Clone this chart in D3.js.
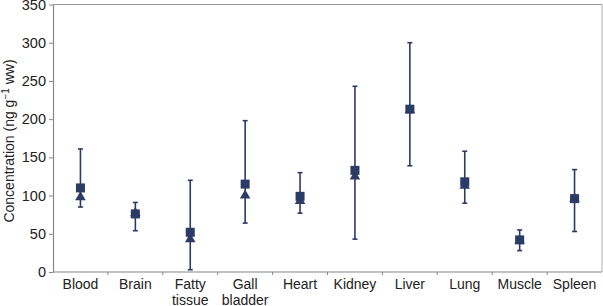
<!DOCTYPE html>
<html>
<head>
<meta charset="utf-8">
<script src="https://cdn.jsdelivr.net/npm/d3@7"></script>
<style>
  body { margin: 0; background: #fff; }
  svg text { font-family: "Liberation Sans", Arial, sans-serif; fill: #222; }
</style>
</head>
<body>
<div id="main"></div>
<script>
// tissues (second line of label after "|")
const tissues = ["Blood", "Brain", "Fatty|tissue", "Gall|bladder", "Heart", "Kidney", "Liver", "Lung", "Muscle", "Spleen"];
// square markers
const squareVals = [110, 76, 52, 115, 99, 133, 213, 118, 42, 96];
// triangle markers
const triangleVals = [98, 77, 43, 100, 93, 125, 212, 113, 41, 96];
// whisker ends
const highVals = [161, 91, 120, 198, 130, 243, 300, 158, 55, 134];
const lowVals = [85, 54, 3, 64, 77, 43, 139, 90, 28, 53];
const yTicks = [0, 50, 100, 150, 200, 250, 300, 350];

const ctx = { width: 603, height: 306, left: 53, right: 602, top: 4.5, bottom: 272 };
const navy = "#2c3a66";

const svg = d3.select("#main").append("svg")
  .attr("width", ctx.width)
  .attr("height", ctx.height);

const x = d3.scaleBand().domain(tissues).range([ctx.left, ctx.right]);
const y = d3.scaleLinear().domain([0, 350]).range([ctx.bottom, ctx.top]);

// frame
svg.append("line").attr("x1", ctx.left).attr("x2", ctx.right).attr("y1", ctx.top).attr("y2", ctx.top)
  .attr("stroke", "#999").attr("stroke-width", 1.2);
svg.append("line").attr("x1", ctx.right).attr("x2", ctx.right).attr("y1", ctx.top).attr("y2", ctx.bottom)
  .attr("stroke", "#bbb").attr("stroke-width", 1.2);

// y axis
const yAxis = svg.append("g")
  .attr("transform", "translate(" + ctx.left + ",0)")
  .call(d3.axisLeft(y).tickValues(yTicks).tickSize(4).tickSizeOuter(0));
yAxis.select(".domain").attr("stroke", "#888").attr("stroke-width", 1.2);
yAxis.selectAll(".tick line").attr("stroke", "#888");
yAxis.selectAll(".tick text").attr("font-size", 14.5).attr("x", -7).attr("fill", "#222");

// x axis, ticks sit between categories
const xAxis = svg.append("g").attr("transform", "translate(0," + ctx.bottom + ")");
xAxis.append("line").attr("x1", ctx.left).attr("x2", ctx.right).attr("stroke", "#888").attr("stroke-width", 1.2);
xAxis.selectAll(".sep").data(tissues.slice(1)).enter().append("line")
  .attr("x1", d => x(d)).attr("x2", d => x(d))
  .attr("y1", 0).attr("y2", 3).attr("stroke", "#888");
const lbl = xAxis.selectAll(".lbl").data(tissues).enter().append("text")
  .attr("text-anchor", "middle").attr("font-size", 14)
  .attr("transform", d => "translate(" + (x(d) + x.bandwidth() / 2) + ",17)");
lbl.each(function (d) {
  const parts = d.split("|");
  parts.forEach((p, i) => {
    d3.select(this).append("tspan").attr("x", 0).attr("y", i * 15.5).text(p);
  });
});

// y title
const title = svg.append("text")
  .attr("transform", "translate(13.5," + 141 + ") rotate(-90)")
  .attr("text-anchor", "middle").attr("font-size", 14);
title.append("tspan").text("Concentration (ng g");
title.append("tspan").attr("dy", -5).attr("font-size", 10).text("\u22121");
title.append("tspan").attr("dy", 5).text(" ww)");

// error bars
const cx = d => x(d) + x.bandwidth() / 2;
const g = svg.append("g");
tissues.forEach((t, i) => {
  g.append("line").attr("x1", cx(t)).attr("x2", cx(t))
    .attr("y1", y(highVals[i])).attr("y2", y(lowVals[i]))
    .attr("stroke", navy).attr("stroke-width", 1.6);
  [highVals[i], lowVals[i]].forEach(v => {
    g.append("line").attr("x1", cx(t) - 2.5).attr("x2", cx(t) + 2.5)
      .attr("y1", y(v)).attr("y2", y(v))
      .attr("stroke", navy).attr("stroke-width", 1.6);
  });
});

// triangles
g.selectAll(".tri").data(tissues).enter().append("path")
  .attr("d", d3.symbol().type(d3.symbolTriangle).size(48))
  .attr("transform", (d, i) => "translate(" + cx(d) + "," + y(triangleVals[i]) + ")")
  .attr("fill", navy);

// squares
g.selectAll(".sq").data(tissues).enter().append("rect")
  .attr("x", d => cx(d) - 4.5)
  .attr("y", (d, i) => y(squareVals[i]) - 4.5)
  .attr("width", 9).attr("height", 9)
  .attr("fill", navy);
</script>
</body>
</html>
